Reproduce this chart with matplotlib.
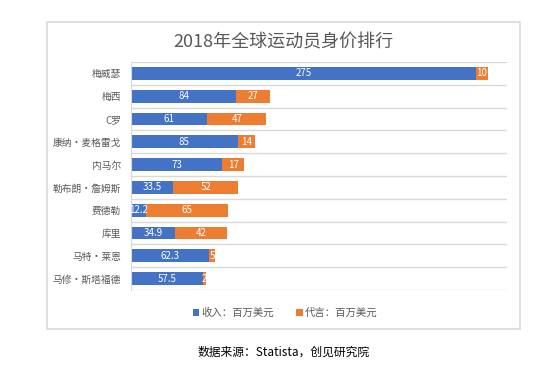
import matplotlib.pyplot as plt
from matplotlib.patches import Rectangle
import numpy as np

plt.rcParams['font.family'] = ['Noto Sans CJK SC', 'DejaVu Sans']

# ....... Data ........
players = ['梅威瑟', '梅西', 'C罗', '康纳•麦格雷戈', '内马尔',
           '勒布朗•詹姆斯', '费德勒', '库里', '马特•莱恩', '马修•斯塔福德']
salary = [275, 84, 61, 85, 73, 33.5, 12.2, 34.9, 62.3, 57.5]
endorse = [10, 27, 47, 14, 17, 52, 65, 42, 5, 2]
salary_labels = ['275', '84', '61', '85', '73', '33.5', '12.2', '34.9', '62.3', '57.5']
endorse_labels = ['10', '27', '47', '14', '17', '52', '65', '42', '5', '2']

blue = '#4472C4'
orange = '#ED7D31'
grey_txt = '#595959'
grid_col = '#D9D9D9'

fig = plt.figure(figsize=(5.5, 3.76), dpi=100)
fig.patch.set_facecolor('white')

# outer chart frame
fig.patches.append(Rectangle((47 / 550, 1 - 329 / 376), 473 / 550, 307 / 376,
                             transform=fig.transFigure, fill=False,
                             edgecolor=grid_col, linewidth=1.2))

ax = fig.add_axes([131 / 550, 1 - 290 / 376, 376 / 550, 228 / 376])

y = np.arange(len(players))
h = 0.57
b1 = ax.barh(y, salary, height=h, color=blue, label='收入：百万美元')
b2 = ax.barh(y, endorse, left=salary, height=h, color=orange, label='代言：百万美元')

ax.bar_label(b1, labels=salary_labels, label_type='center', color='white', fontsize=7)
ax.bar_label(b2, labels=endorse_labels, label_type='center', color='white', fontsize=7)

ax.set_xlim(0, 300)
ax.set_ylim(len(players) - 0.5, -0.5)

# gridlines between the categories
for g in np.arange(-0.5, len(players), 1.0):
    ax.axhline(g, color=grid_col, linewidth=1, zorder=0)

ax.set_yticks(y)
ax.set_yticklabels(players, fontsize=7, color=grey_txt)
ax.tick_params(axis='y', length=0, pad=7)
ax.set_xticks([])

for s in ['top', 'right', 'bottom']:
    ax.spines[s].set_visible(False)
ax.spines['left'].set_color(grid_col)

fig.text(283 / 550, 1 - 42 / 376, '2018年全球运动员身价排行', ha='center', va='center',
         fontsize=13, color=grey_txt)

fig.legend(handles=[b1, b2], loc='center', bbox_to_anchor=(285 / 550, 1 - 313 / 376),
           ncol=2, frameon=False, fontsize=7.5, labelcolor=grey_txt,
           handlelength=0.6, handleheight=0.6, handletextpad=0.2, columnspacing=2.2)

fig.text(284 / 550, 1 - 352 / 376, '数据来源：Statista，创见研究院', ha='center', va='center',
         fontsize=8.5, color='black')

fig.savefig('out.png', dpi=100)
